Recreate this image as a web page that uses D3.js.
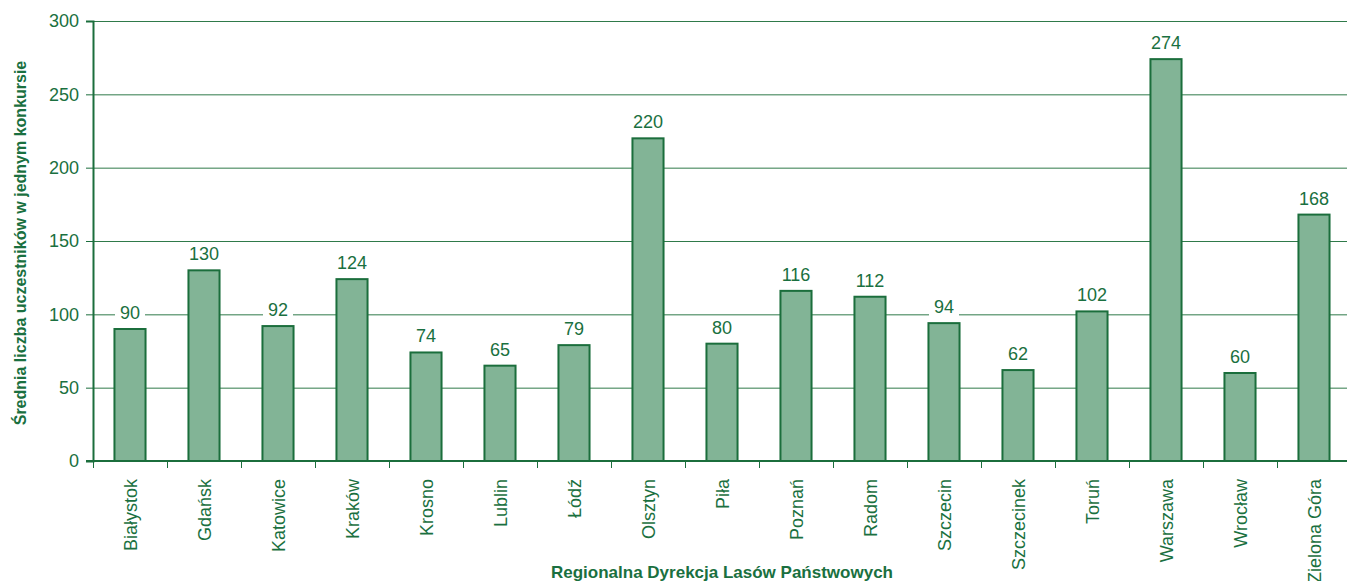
<!DOCTYPE html>
<meta charset="utf-8">
<script src="https://d3js.org/d3.v7.min.js"></script>
<style>
  body { margin: 0; background: #fff; font-family: "Liberation Sans", Arial, sans-serif; }
  svg { display: block; }
</style>
<div id="chart"></div>
<script>
// data
var regions = ["Białystok", "Gdańsk", "Katowice", "Kraków", "Krosno", "Lublin", "Łódź", "Olsztyn", "Piła",
               "Poznań", "Radom", "Szczecin", "Szczecinek", "Toruń", "Warszawa", "Wrocław", "Zielona Góra"];
var avgParticipants = [90, 130, 92, 124, 74, 65, 79, 220, 80, 116, 112, 94, 62, 102, 274, 60, 168];
var yTicks = [0, 50, 100, 150, 200, 250, 300];

var W = 1347, H = 581;
var green = "#1b6e3c", textGreen = "#1a7040", barFill = "#82b496";
var margin = {top: 21, left: 93, bottom: 120};
var plotH = H - margin.top - margin.bottom; // 440

var svg = d3.select("#chart").append("svg")
  .attr("width", W).attr("height", H);

var x = d3.scaleBand()
  .domain(regions)
  .range([margin.left, margin.left + 74 * regions.length])
  .paddingInner(0.58).paddingOuter(0.29);

var y = d3.scaleLinear().domain([0, 300]).range([margin.top + plotH, margin.top]);

// gridlines
svg.append("g").selectAll("line")
  .data(yTicks.slice(1))
  .enter().append("line")
    .attr("x1", margin.left).attr("x2", W)
    .attr("y1", function(d){ return y(d) + 0.5; })
    .attr("y2", function(d){ return y(d) + 0.5; })
    .attr("stroke", "#2f7a4a").attr("stroke-width", 1);

// bars
svg.append("g").selectAll("rect")
  .data(avgParticipants)
  .enter().append("rect")
    .attr("x", function(d, i){ return x(regions[i]); })
    .attr("y", function(d){ return y(d); })
    .attr("width", x.bandwidth())
    .attr("height", function(d){ return y(0) - y(d); })
    .attr("fill", barFill)
    .attr("stroke", green).attr("stroke-width", 2);

// value labels with white knock-out
var vl = svg.append("g").selectAll("g")
  .data(avgParticipants)
  .enter().append("g")
    .attr("transform", function(d, i){
      return "translate(" + (x(regions[i]) + x.bandwidth() / 2) + "," + (y(d) - 10) + ")";
    });
vl.append("rect")
  .attr("x", function(d){ return -String(d).length * 5 - 5; })
  .attr("y", -16)
  .attr("width", function(d){ return String(d).length * 10 + 10; })
  .attr("height", 20)
  .attr("fill", "#fff");
vl.append("text")
  .attr("text-anchor", "middle")
  .style("font-size", "18px")
  .attr("fill", textGreen)
  .text(function(d){ return d; });

// y axis
var yAxis = svg.append("g")
  .attr("transform", "translate(" + margin.left + ",0)")
  .call(d3.axisLeft(y).tickValues(yTicks).tickSize(7).tickPadding(7));
yAxis.select(".domain").attr("stroke", green).attr("stroke-width", 2);
yAxis.selectAll(".tick line").attr("stroke", green);
yAxis.selectAll("text").attr("fill", textGreen).style("font-size", "18px")
  .style("font-family", "'Liberation Sans', Arial, sans-serif");

// x axis: ticks on band boundaries
var xBase = y(0);
svg.append("line")
  .attr("x1", margin.left - 7).attr("x2", W)
  .attr("y1", xBase).attr("y2", xBase)
  .attr("stroke", green).attr("stroke-width", 2);
svg.append("g").selectAll("line")
  .data(d3.range(regions.length + 1))
  .enter().append("line")
    .attr("x1", function(i){ return margin.left + i * x.step() + 0.5; })
    .attr("x2", function(i){ return margin.left + i * x.step() + 0.5; })
    .attr("y1", xBase).attr("y2", xBase + 7)
    .attr("stroke", green);

svg.append("g").selectAll("text")
  .data(regions)
  .enter().append("text")
    .attr("transform", function(d){
      return "translate(" + (x(d) + x.bandwidth() / 2 + 7) + "," + (xBase + 18) + ")rotate(-90)";
    })
    .attr("text-anchor", "end")
    .style("font-size", "18px")
    .attr("fill", textGreen)
    .text(function(d){ return d; });

// axis titles
svg.append("text")
  .attr("transform", "translate(26," + (margin.top + 222) + ")rotate(-90)")
  .attr("text-anchor", "middle")
  .style("font-size", "16px").style("font-weight", "bold")
  .attr("fill", textGreen)
  .text("Średnia liczba uczestników w jednym konkursie");

svg.append("text")
  .attr("x", 722).attr("y", 578)
  .attr("text-anchor", "middle")
  .style("font-size", "17px").style("font-weight", "bold")
  .attr("fill", textGreen)
  .text("Regionalna Dyrekcja Lasów Państwowych");
</script>
